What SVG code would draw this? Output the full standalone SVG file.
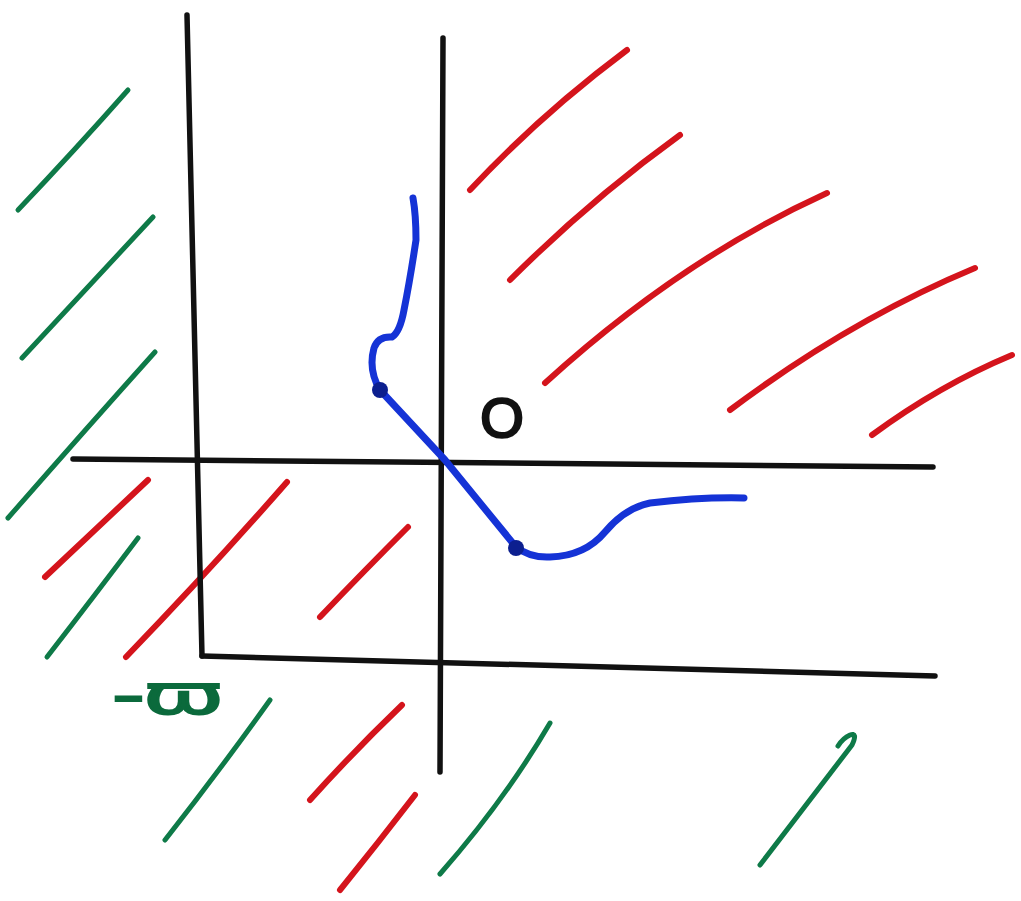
<svg xmlns="http://www.w3.org/2000/svg" width="1021" height="901" viewBox="0 0 1021 901">
<style>
.k{fill:none;stroke:#111;stroke-width:5.5;stroke-linecap:round}
.g{fill:none;stroke:#0e7a48;stroke-width:5;stroke-linecap:round;stroke-linejoin:round}
.r{fill:none;stroke:#d4141c;stroke-width:6;stroke-linecap:round}
.b{fill:none;stroke:#1533d6;stroke-width:7;stroke-linecap:round;stroke-linejoin:round}
.lbl{font-family:"Liberation Sans",Arial,sans-serif}
</style>
<rect width="1021" height="901" fill="#fff"/>
<g id="hatch-green">
<path class="g" d="M18,210 Q75,150 128,90"/>
<path class="g" d="M22,358 Q90,285 153,217"/>
<path class="g" d="M8,518 Q85,430 155,352"/>
<path class="g" d="M47,657 Q95,595 138,538"/>
<path class="g" d="M165,840 Q220,770 270,700"/>
<path class="g" d="M440,874 Q505,800 550,723"/>
<path class="g" d="M760,865 Q810,800 852,745 Q858,732 850,735 Q843,738 838,746"/>
</g>
<g id="hatch-red">
<path class="r" d="M470,190 Q540,115 627,50"/>
<path class="r" d="M510,280 Q590,200 680,135"/>
<path class="r" d="M545,383 Q680,260 827,193"/>
<path class="r" d="M730,410 Q850,320 975,268"/>
<path class="r" d="M872,435 Q940,385 1012,355"/>
<path class="r" d="M45,577 Q100,525 148,480"/>
<path class="r" d="M126,657 Q210,570 287,482"/>
<path class="r" d="M320,617 Q365,570 408,527"/>
<path class="r" d="M310,800 Q355,750 402,705"/>
<path class="r" d="M340,890 Q378,843 415,795"/>
</g>
<g id="axes">
<path class="k" d="M187,15 L202,656"/>
<path class="k" d="M443,38 L440,772"/>
<path class="k" d="M73,459 L933,467"/>
<path class="k" d="M202,656 L935,676"/>
</g>
<g id="curve">
<path class="b" d="M413,198 Q416,215 416,240 Q410,280 404,310 Q400,332 392,337 Q378,336 374,348 Q368,370 380,390 L445,460 L516,547 Q530,558 550,557 Q585,556 605,532 Q625,508 650,503 Q700,497 744,498"/>
<circle cx="380" cy="390" r="8" fill="#0c1f8f"/>
<circle cx="516" cy="548" r="8" fill="#0c1f8f"/>
</g>
<g id="labels">
<text class="lbl" x="502" y="437" font-size="56" text-anchor="middle" fill="#111" stroke="#111" stroke-width="2.5">O</text>
<text class="lbl" x="112" y="714" font-size="58" textLength="110" lengthAdjust="spacingAndGlyphs" fill="#0b6a3c" stroke="#0b6a3c" stroke-width="2">-ϖ</text>
</g>
</svg>
